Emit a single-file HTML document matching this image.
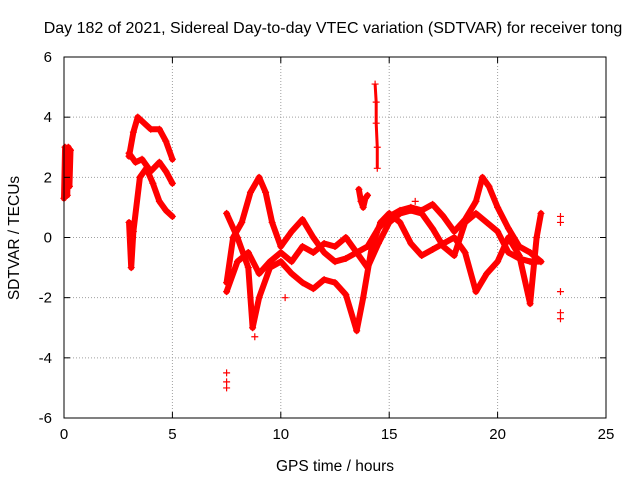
<!DOCTYPE html>
<html><head><meta charset="utf-8"><style>
body{margin:0;background:#fff;}
svg{display:block;font-family:"Liberation Sans",sans-serif;}
</style></head><body>
<svg id="chart" width="640" height="480" viewBox="0 0 640 480">
<rect x="0" y="0" width="640" height="480" fill="#fff"/>
<text x="333" y="33" font-size="16" text-anchor="middle">Day 182 of 2021, Sidereal Day-to-day VTEC variation (SDTVAR) for receiver tong</text>
<text x="335" y="471" font-size="15.5" text-anchor="middle">GPS time / hours</text>
<text x="19" y="238" font-size="15.5" text-anchor="middle" transform="rotate(-90 19 238)">SDTVAR / TECUs</text>
<g id="grid"></g><g id="marks"></g><g id="axes"></g>
</svg>
<script>
const xTicks=[0,5,10,15,20,25];
const yTicks=[-6,-4,-2,0,2,4,6];
const trackA=[[0,1.3],[0.05,3],[0.1,2.4],[0.15,1.4],[0.2,3],[0.25,1.7],[0.3,2.9]];
const trackB1=[[3.0,2.7],[3.2,3.5],[3.4,4.0],[3.7,3.8],[4.0,3.6],[4.4,3.6],[4.7,3.2],[5.0,2.6]];
const trackB2=[[3.0,2.8],[3.3,2.5],[3.6,2.6],[4.0,2.2],[4.4,2.5],[4.7,2.2],[5.0,1.8]];
const trackB3=[[3.0,0.5],[3.1,-1.0],[3.2,0.2],[3.5,2.0],[3.8,2.3],[4.1,1.8],[4.4,1.2],[4.7,0.9],[5.0,0.7]];
const trackC=[[7.5,-1.5],[7.8,0],[8.2,0.5],[8.6,1.5],[9.0,2.0],[9.3,1.5],[9.6,0.5],[10,-0.3],[10.5,0.2],[11,0.6],[11.5,0],[12,-0.5],[12.5,-0.8],[13,-0.7],[13.5,-0.5],[14,-0.3],[14.5,0.3],[15,0.7],[15.5,0.9],[16,1],[16.5,0.9],[17,1.1],[17.5,0.7],[18,0.2],[18.5,0.6],[19,1.2],[19.3,2.0],[19.6,1.7],[20,1.0],[20.5,0.3],[21,-0.3],[21.5,-0.5],[22,-0.8]];
const trackD=[[7.5,0.8],[8,0],[8.5,-1],[8.7,-3],[9,-2],[9.5,-1],[10,-0.8],[10.5,-1.2],[11,-1.5],[11.5,-1.7],[12,-1.4],[12.5,-1.5],[13,-1.9],[13.5,-3.1],[13.8,-2],[14.2,-0.3],[14.6,0.5],[15,0.8],[15.5,0.5],[16,-0.2],[16.5,-0.6],[17,-0.4],[17.5,-0.2],[18,0],[18.5,-0.5],[19,-1.8],[19.5,-1.2],[20,-0.8],[20.5,0],[21,-0.6],[21.5,-2.2],[21.8,0],[22,0.8]];
const trackE=[[7.5,-1.8],[8,-0.8],[8.5,-0.5],[9,-1.2],[9.5,-0.8],[10,-0.5],[10.5,-0.8],[11,-0.3],[11.5,-0.5],[12,-0.2],[12.5,-0.3],[13,0],[13.5,-0.5],[14,-1],[14.5,-0.2],[15,0.5],[15.5,0.8],[16,0.9],[16.5,0.8],[17,0.3],[17.5,-0.3],[18,-0.6],[18.5,0.5],[19,0.8],[19.5,0.5],[20,0.2],[20.5,-0.5],[21,-0.7],[21.5,-0.8],[22,-0.8]];
const spike=[[14.35,5.1],[14.4,4.5],[14.4,3.8],[14.45,3.0],[14.45,2.3]];
const cluster=[[13.6,1.6],[13.7,1.2],[13.8,1.0],[13.9,1.3],[14,1.4]];
const isolated=[[7.5,-4.5],[7.5,-4.8],[7.5,-5.0],[22.9,0.7],[22.9,0.5],[22.9,-1.8],[22.9,-2.5],[22.9,-2.7],[8.8,-3.3],[10.2,-2.0],[16.2,1.2]];
const NS='http://www.w3.org/2000/svg';
const X0=64,X1=606,Y0=418,Y1=57;
const sx=v=>X0+(v-0)/(25-0)*(X1-X0);
const sy=v=>Y0-(v+6)/12*(Y0-Y1);
function mk(t,a,p){const e=document.createElementNS(NS,t);for(const k in a)e.setAttribute(k,a[k]);p.appendChild(e);return e;}
const grid=document.getElementById('grid'),axes=document.getElementById('axes'),marks=document.getElementById('marks');
xTicks.forEach(t=>{const x=sx(t);
 if(t>0&&t<25){const g=mk('line',{x1:x,x2:x,y1:Y0,y2:Y1,stroke:'#a0a0a0','stroke-dasharray':'1,2','stroke-width':1},grid);}
 mk('line',{x1:x,x2:x,y1:Y0,y2:Y0-6,stroke:'#000'},axes);mk('line',{x1:x,x2:x,y1:Y1,y2:Y1+6,stroke:'#000'},axes);
 const l=mk('text',{x:x,y:Y0+21,'font-size':15,'text-anchor':'middle'},axes);l.textContent=t;
 });
yTicks.forEach(t=>{const y=sy(t);
 if(t>-6&&t<6){const g=mk('line',{x1:X0,x2:X1,y1:y,y2:y,stroke:'#a0a0a0','stroke-dasharray':'1,2','stroke-width':1},grid);}
 mk('line',{x1:X0,x2:X0+6,y1:y,y2:y,stroke:'#000'},axes);mk('line',{x1:X1,x2:X1-6,y1:y,y2:y,stroke:'#000'},axes);
 const l=mk('text',{x:X0-12,y:y+5,'font-size':15,'text-anchor':'end'},axes);l.textContent=t;
 });
const fr=mk('rect',{x:X0,y:Y1,width:X1-X0,height:Y0-Y1,fill:'none',stroke:'#000'},axes);

function track(d,name){const p=mk('polyline',{points:d.map(q=>sx(q[0])+','+sy(q[1])).join(' '),fill:'none',stroke:'#f00','stroke-width':6,'stroke-linejoin':'round','stroke-linecap':'round'},marks);
 
 d.forEach(q=>plus(q,name+'-point'));}
function plus(q,name){const x=sx(q[0]),y=sy(q[1]);const g=mk('path',{d:`M${x-3.5},${y}h7M${x},${y-3.5}v7`,stroke:'#f00','stroke-width':1.2},marks);
 }
track(trackA,'track-a');track(trackB1,'track-b-upper');track(trackB2,'track-b-middle');track(trackB3,'track-b-lower');
track(trackC,'track-c');track(trackD,'track-d');track(trackE,'track-e');
const sp=mk('polyline',{points:spike.map(q=>sx(q[0])+','+sy(q[1])).join(' '),fill:'none',stroke:'#f00','stroke-width':3},marks);

spike.forEach(q=>plus(q,'spike-point'));
track(cluster,'cluster-track');
isolated.forEach(q=>plus(q,'isolated-point'));
</script>
</body></html>
